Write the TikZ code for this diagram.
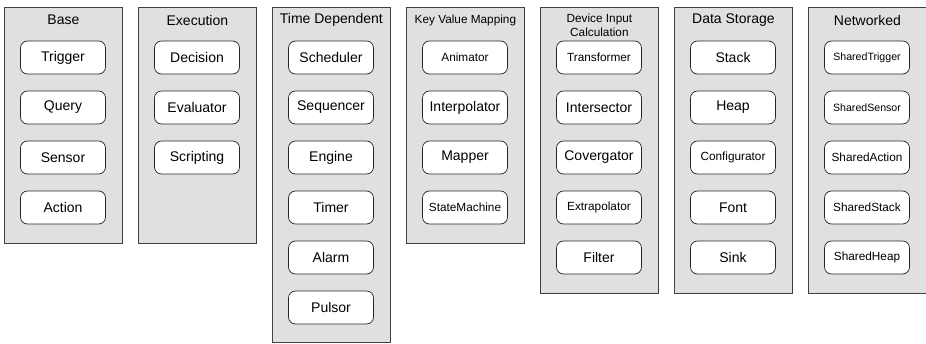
\documentclass[tikz,border=0pt]{standalone}
\usepackage{fontspec}
\setmainfont{Liberation Sans}
\newcommand\midtxt{\fontsize{11.8}{14}\selectfont}
\newcommand\tinytxt{\fontsize{10.6}{13}\selectfont}
\begin{document}
\begin{tikzpicture}[x=1pt, y=-1pt,
    group/.style={draw=black!75, fill=black!12, line width=0.8pt,
        minimum width=118pt, anchor=north west, inner sep=0pt},
    item/.style={draw=black!85, fill=white, rounded corners=7pt,
        minimum width=85pt, minimum height=33pt, line width=0.7pt,
        inner sep=1pt, font=\fontsize{14}{16}\selectfont},
    title/.style={font=\fontsize{14}{16}\selectfont, align=center}]
    \useasboundingbox (0,0) rectangle (926,343);
    % grey panels, one per category
    \foreach \p/\i/\h in {base/0/236, exec/1/236, time/2/335, keyval/3/236,
                          device/4/286, storage/5/286, net/6/286}{
        \node[group, minimum height=\h pt] (\p) at (4+134*\i, 7) {};
    }
    % panel headings
    \node[title] (base-title) at ([yshift=-13pt]base.north) {Base};
    \node[title] (exec-title) at ([yshift=-13pt]exec.north) {Execution};
    \node[title] (time-title) at ([yshift=-13pt]time.north) {Time Dependent};
    \node[title, font=\midtxt] (keyval-title) at ([yshift=-13pt]keyval.north)
        {Key Value Mapping};
    \node[title, font=\midtxt] (device-title) at ([yshift=-18pt]device.north)
        {Device Input\\Calculation};
    \node[title] (storage-title) at ([yshift=-13pt]storage.north) {Data Storage};
    \node[title] (net-title) at ([yshift=-13pt]net.north) {Networked};
    % components
    \foreach \lbl [count=\r] in {Trigger, Query, Sensor, Action}
        \node[item] (base-\r) at (63, 7.5+50*\r) {\lbl};
    \foreach \lbl [count=\r] in {Decision, Evaluator, Scripting}
        \node[item] (exec-\r) at (197, 7.5+50*\r) {\lbl};
    \foreach \lbl [count=\r] in {Scheduler, Sequencer, Engine, Timer, Alarm, Pulsor}
        \node[item] (time-\r) at (331, 7.5+50*\r) {\lbl};
    \foreach \lbl [count=\r] in {{\midtxt Animator}, Interpolator, Mapper,
                                 {\midtxt StateMachine}}
        \node[item] (keyval-\r) at (465, 7.5+50*\r) {\lbl};
    \foreach \lbl [count=\r] in {{\midtxt Transformer}, Intersector, Covergator,
                                 {\midtxt Extrapolator}, Filter}
        \node[item] (device-\r) at (599, 7.5+50*\r) {\lbl};
    \foreach \lbl [count=\r] in {Stack, Heap, {\midtxt Configurator}, Font, Sink}
        \node[item] (storage-\r) at (733, 7.5+50*\r) {\lbl};
    \foreach \lbl [count=\r] in {{\tinytxt SharedTrigger}, {\tinytxt SharedSensor},
                                 {\midtxt SharedAction}, {\midtxt SharedStack},
                                 {\midtxt SharedHeap}}
        \node[item] (net-\r) at (867, 7.5+50*\r) {\lbl};
\end{tikzpicture}
\end{document}
